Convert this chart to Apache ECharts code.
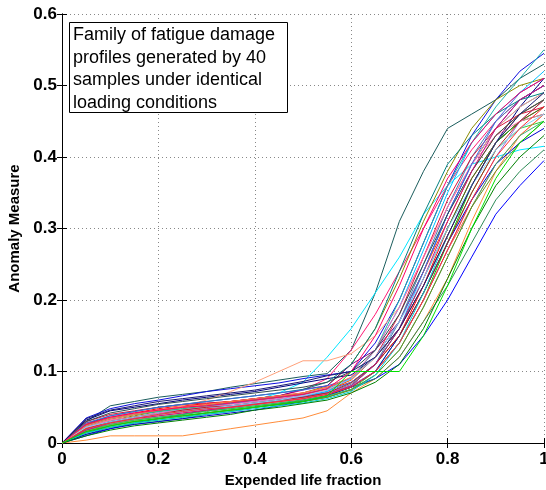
<!DOCTYPE html>
<html><head><meta charset="utf-8">
<script src="https://cdn.jsdelivr.net/npm/echarts@6/dist/echarts.min.js"></script>
<style>html,body{margin:0;padding:0;background:#fff}#c{width:546px;height:490px}</style>
</head><body><div id="c"></div>
<script>
const xs = [0,0.05,0.1,0.15,0.2,0.25,0.3,0.35,0.4,0.45,0.5,0.55,0.6,0.65,0.7,0.75,0.8,0.85,0.9,0.95,1];
const xTicks = ['0','0.2','0.4','0.6','0.8','1'];
const yTicks = ['0','0.1','0.2','0.3','0.4','0.5','0.6'];
const s01=[0,.030,.052,.058,.064,.068,.072,.078,.083,.088,.093,.097,.13,.21,.31,.38,.44,.46,.48,.51,.53];
const s02=[0,.020,.030,.036,.042,.046,.050,.055,.060,.070,.085,.12,.16,.21,.26,.32,.36,.39,.40,.41,.415];
const s03=[0,.004,.010,.010,.010,.010,.015,.020,.025,.030,.035,.045,.070,.09,.12,.17,.23,.31,.38,.43,.46];
const s04=[0,.010,.020,.028,.034,.040,.046,.050,.054,.060,.065,.070,.078,.09,.11,.15,.20,.26,.32,.36,.395];
const s05=[0,.012,.022,.026,.030,.034,.040,.044,.050,.054,.058,.064,.075,.09,.12,.17,.22,.28,.34,.38,.41];
const s06=[0,.035,.048,.055,.060,.066,.072,.076,.080,.084,.090,.095,.10,.14,.20,.28,.36,.43,.48,.52,.545];
const s07=[0,.028,.036,.042,.048,.052,.055,.058,.060,.064,.068,.075,.085,.11,.15,.22,.30,.37,.42,.45,.47];
const s08=[0,.018,.026,.032,.036,.040,.045,.048,.052,.056,.060,.066,.078,.10,.14,.20,.28,.36,.42,.45,.46];
const s09=[0,.025,.034,.040,.045,.050,.054,.058,.062,.066,.074,.09,.13,.18,.24,.30,.36,.41,.45,.48,.50];
const s10=[0,.022,.032,.038,.044,.048,.052,.056,.060,.064,.070,.080,.11,.16,.23,.31,.38,.44,.48,.50,.51];
const s11=[0,.024,.034,.040,.046,.050,.054,.058,.062,.066,.075,.080,.11,.13,.17,.24,.32,.39,.44,.48,.50];
const s12=[0,.020,.030,.036,.042,.046,.050,.055,.058,.062,.066,.072,.085,.11,.16,.24,.32,.39,.44,.47,.49];
const s13=[0,.015,.022,.028,.032,.036,.042,.046,.050,.055,.058,.064,.075,.10,.15,.21,.28,.35,.41,.44,.45];
const s14=[0,.032,.045,.050,.055,.060,.064,.068,.072,.078,.084,.090,.095,.12,.16,.22,.29,.36,.42,.47,.51];
const s15=[0,.020,.032,.040,.046,.052,.060,.072,.085,.10,.115,.115,.125,.15,.19,.26,.33,.39,.44,.47,.49];
const s16=[0,.014,.024,.030,.034,.038,.042,.046,.050,.054,.060,.066,.080,.11,.16,.23,.30,.37,.42,.45,.47];
const s17=[0,.022,.030,.036,.040,.044,.048,.052,.056,.060,.064,.070,.082,.11,.17,.25,.33,.40,.45,.48,.50];
const s18=[0,.030,.040,.045,.050,.054,.056,.058,.062,.066,.070,.078,.090,.12,.18,.26,.34,.40,.44,.46,.47];
const s19=[0,.018,.028,.034,.040,.044,.048,.052,.056,.060,.064,.072,.090,.13,.19,.27,.35,.42,.46,.49,.52];
const s20=[0,.016,.026,.032,.038,.042,.046,.050,.054,.058,.062,.070,.080,.10,.14,.20,.27,.33,.39,.43,.46];
const s21=[0,.026,.038,.044,.050,.054,.058,.062,.066,.070,.075,.085,.11,.16,.24,.32,.39,.43,.46,.48,.49];
const s22=[0,.020,.030,.036,.040,.044,.048,.052,.056,.060,.064,.070,.080,.10,.14,.20,.27,.34,.40,.45,.48];
const s23=[0,.012,.020,.026,.030,.034,.038,.042,.046,.052,.058,.066,.078,.10,.15,.21,.28,.34,.39,.42,.44];
const s24=[0,.026,.034,.040,.046,.050,.054,.058,.060,.064,.068,.074,.088,.12,.17,.24,.31,.38,.43,.46,.48];
const s25=[0,.018,.026,.032,.036,.040,.044,.048,.052,.056,.060,.066,.075,.095,.13,.19,.26,.33,.39,.43,.45];
const s26=[0,.024,.034,.040,.044,.048,.052,.056,.060,.064,.068,.076,.090,.13,.20,.28,.36,.42,.47,.51,.55];
const s27=[0,.022,.032,.036,.042,.046,.050,.054,.058,.062,.066,.074,.092,.13,.19,.26,.33,.39,.43,.45,.46];
const s28=[0,.016,.024,.030,.034,.038,.042,.046,.050,.054,.058,.064,.074,.095,.13,.19,.26,.33,.38,.42,.45];
const s29=[0,.028,.038,.044,.050,.054,.058,.062,.066,.070,.074,.080,.090,.12,.17,.24,.32,.39,.45,.49,.51];
const s30=[0,.020,.030,.036,.040,.046,.050,.052,.056,.060,.064,.070,.084,.11,.15,.21,.28,.35,.41,.45,.48];
const s31=[0,.014,.022,.028,.032,.036,.040,.044,.048,.052,.056,.062,.072,.095,.14,.21,.29,.36,.42,.46,.48];
const s32=[0,.024,.034,.040,.046,.050,.054,.058,.062,.066,.070,.078,.092,.12,.16,.22,.29,.36,.42,.46,.48];
const s33=[0,.030,.042,.048,.054,.058,.062,.066,.070,.074,.078,.085,.10,.13,.18,.25,.32,.38,.43,.46,.48];
const s34=[0,.018,.028,.034,.038,.042,.046,.050,.054,.058,.062,.068,.080,.11,.16,.23,.31,.38,.44,.48,.50];
const s35=[0,.010,.018,.024,.028,.032,.036,.040,.046,.050,.055,.060,.070,.085,.11,.16,.23,.30,.36,.40,.43];
const s36=[0,.022,.030,.036,.040,.044,.048,.052,.056,.060,.066,.074,.090,.12,.17,.23,.30,.36,.41,.44,.46];
const s37=[0,.026,.036,.042,.046,.050,.052,.056,.060,.064,.068,.076,.10,.15,.22,.30,.37,.42,.46,.49,.51];
const s38=[0,.034,.046,.052,.058,.062,.066,.070,.074,.080,.086,.094,.10,.12,.16,.22,.29,.36,.42,.46,.49];
const s39=[0,.020,.028,.034,.040,.044,.048,.050,.054,.058,.062,.068,.078,.10,.14,.20,.27,.34,.40,.44,.47];
const s40=[0,.016,.024,.030,.034,.038,.042,.046,.050,.054,.058,.066,.100,.100,.10,.15,.22,.30,.37,.42,.45];
const seriesValues=[s01,s02,s03,s04,s05,s06,s07,s08,s09,s10,s11,s12,s13,s14,s15,s16,s17,s18,s19,s20,s21,s22,s23,s24,s25,s26,s27,s28,s29,s30,s31,s32,s33,s34,s35,s36,s37,s38,s39,s40];
const colors=['#1a5c5c','#00e5ff','#ff8c3a','#0000ff','#2e8b57','#1010e0','#ff0000','#00cc00','#ff1a75','#8b8b00','#800080','#1e90ff','#32cd32','#000080','#ffa07a','#228b22','#4682b4','#dc143c','#00bfff','#ff6347','#008080','#9370db','#0000cd','#ff4500','#3cb371','#20b2aa','#ff69b4','#6b8e23','#4169e1','#b22222','#00ced1','#ff7f50','#2f4f4f','#c71585','#008000','#87cefa','#ff0066','#191970','#ff3030','#00e000'];
const boxLines=['Family of fatigue damage','profiles generated by 40','samples under identical','loading conditions'];

const chart=echarts.init(document.getElementById('c'),null,{renderer:'canvas'});
const F='Liberation Sans, Arial, Helvetica, sans-serif';
const tickLbl={fontFamily:F,fontWeight:'bold',fontSize:17,color:'#000'};
const split={show:true,lineStyle:{color:'#888',width:1,type:[1,3]}};
const axLine={show:true,lineStyle:{color:'#000',width:1}};
const tick={show:true,inside:true,length:5,lineStyle:{color:'#000'}};
chart.setOption({
  animation:false,
  grid:{left:62,right:2,top:14,bottom:47,containLabel:false,outerBoundsMode:'none'},
  xAxis:[
    {type:'value',min:0,max:1,interval:0.2,axisLine:axLine,axisTick:tick,splitLine:split,
     axisLabel:Object.assign({margin:8,formatter:(v,i)=>xTicks[i]},tickLbl),
     name:'Expended life fraction',nameLocation:'middle',nameGap:27,
     nameTextStyle:{fontFamily:F,fontWeight:'bold',fontSize:15,color:'#000'}},
    {type:'value',position:'top',min:0,max:1,interval:0.2,axisLine:axLine,axisTick:tick,axisLabel:{show:false},splitLine:{show:false}}
  ],
  yAxis:[
    {type:'value',min:0,max:0.6,interval:0.1,axisLine:axLine,axisTick:tick,splitLine:split,
     axisLabel:Object.assign({margin:5,formatter:(v,i)=>yTicks[i]},tickLbl),
     name:'Anomaly Measure',nameLocation:'middle',nameGap:37,
     nameTextStyle:{fontFamily:F,fontWeight:'bold',fontSize:15,color:'#000'}},
    {type:'value',position:'right',min:0,max:0.6,interval:0.1,axisLine:axLine,axisTick:tick,axisLabel:{show:false},splitLine:{show:false}}
  ],
  series:seriesValues.map((vals,i)=>({type:'line',symbol:'none',xAxisIndex:0,yAxisIndex:0,
    data:vals.map((v,j)=>[xs[j],v]),lineStyle:{width:1,color:colors[i]},itemStyle:{color:colors[i]}})),
  graphic:[
    {type:'rect',left:69,top:22,shape:{width:218,height:90},style:{fill:'#fff',stroke:'#000',lineWidth:1},z:100},
    {type:'text',left:73,top:24,z:101,style:{text:boxLines.join('\n'),font:'18px '+F,lineHeight:22.5,fill:'#000'}}
  ]
});
</script></body></html>
